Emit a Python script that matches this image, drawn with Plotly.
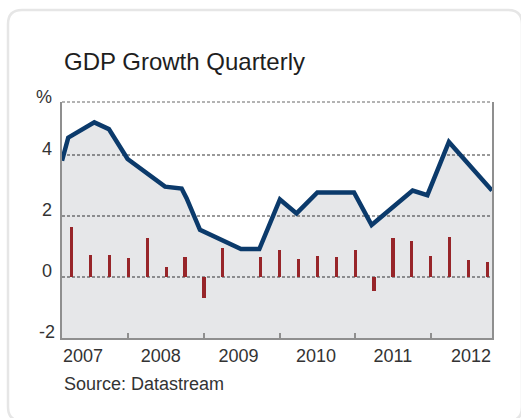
import plotly.graph_objects as go

# ---- data ----
quarter_idx = list(range(23))  # 2007Q1 .. 2012Q3
qoq_growth = [1.65, 0.74, 0.74, 0.63, 1.29, 0.34, 0.67, -0.70, 0.96, 0.0, 0.67, 0.89,
              0.60, 0.70, 0.67, 0.90, -0.44, 1.29, 1.19, 0.70, 1.32, 0.57, 0.48]
line_pos = [-0.51, -0.18, 1.2, 1.97, 2.96, 4.94, 5.82, 6.08, 6.79, 8.96, 9.93, 11.02,
            11.9, 13.0, 14.94, 15.87, 18.04, 18.82, 19.96, 22.24]
yoy_growth = [3.82, 4.58, 5.08, 4.86, 3.88, 2.97, 2.91, 2.59, 1.55, 0.92, 0.92, 2.55,
              2.09, 2.78, 2.78, 1.71, 2.84, 2.69, 4.44, 2.84]
year_labels = ["2007", "2008", "2009", "2010", "2011", "2012"]
year_label_pos = [0.6, 4.72, 8.83, 12.93, 17.0, 21.13]
year_boundaries = [3, 7, 11, 15, 19]
y_ticks = [-2, 0, 2, 4]

FONT = "Liberation Sans, Arial, Helvetica, sans-serif"
W, H = 521, 418
ML, MR, MT, MB = 62, 29, 102, 80
PW, PH = W - ML - MR, H - MT - MB


def px_to_paper(x, y):
    return (x - ML) / PW, (H - MB - y) / PH


fig = go.Figure()

# fill base (below the axis range) and area under line
fig.add_trace(go.Scatter(x=line_pos, y=[-5] * len(line_pos), mode="lines",
                         line=dict(width=0), hoverinfo="skip", showlegend=False))
fig.add_trace(go.Scatter(x=line_pos, y=yoy_growth, mode="lines", fill="tonexty",
                         fillcolor="rgba(5,15,35,0.1)",
                         line=dict(color="#0b3a6b", width=4.5),
                         showlegend=False))
fig.add_trace(go.Bar(x=quarter_idx, y=qoq_growth, width=0.17,
                     marker=dict(color="#a8272a", line=dict(width=0)),
                     showlegend=False))

# year tick marks (inside)
fig.add_trace(go.Scatter(x=[year_boundaries[0]], y=[None], xaxis="x2", showlegend=False,
                         hoverinfo="skip"))

fig.update_layout(
    width=W, height=H,
    margin=dict(l=ML, r=MR, t=MT, b=MB, pad=0),
    paper_bgcolor="white", plot_bgcolor="white",
    font=dict(family=FONT, size=18, color="#333333"),
    bargap=0,
    xaxis=dict(range=[-0.51, 22.24], tickvals=year_label_pos, ticktext=year_labels,
               ticks="", showgrid=False, zeroline=False, showline=True,
               linecolor="#8f8f8f", linewidth=2, mirror=False,
               tickfont=dict(size=18, color="#333333"), ticklabelstandoff=0),
    xaxis2=dict(range=[-0.51, 22.24], overlaying="x", anchor="y", side="bottom",
                tickvals=year_boundaries, ticks="inside", ticklen=5, tickwidth=2,
                tickcolor="#8f8f8f", showticklabels=False, showgrid=False,
                zeroline=False, showline=False),
    yaxis=dict(range=[-2, 5.75], tickvals=y_ticks, showticklabels=False,
               showgrid=True, gridcolor="#9a9a9a", gridwidth=1.5, griddash="3px,2px",
               zeroline=False, showline=True, linecolor="#8f8f8f", linewidth=2,
               mirror=True, ticks=""),
)

annotations = []
for v in y_ticks:
    annotations.append(dict(x=(46.5 - ML) / PW, xref="paper", y=v, yref="y",
                            text=str(v), showarrow=False, xanchor="center",
                            yanchor="middle", yshift=6,
                            font=dict(size=18, color="#333333")))
px, py = px_to_paper(44, 97)
annotations.append(dict(x=px, y=py, xref="paper", yref="paper", text="%",
                        showarrow=False, xanchor="center", yanchor="middle",
                        font=dict(size=18, color="#333333")))
px, py = px_to_paper(62, 61)
annotations.append(dict(x=px, y=py, xref="paper", yref="paper", text="GDP Growth Quarterly",
                        showarrow=False, xanchor="left", yanchor="middle",
                        font=dict(size=24, color="#1e1e1e")))
px, py = px_to_paper(62, 384)
annotations.append(dict(x=px, y=py, xref="paper", yref="paper", text="Source: Datastream",
                        showarrow=False, xanchor="left", yanchor="middle",
                        font=dict(size=18, color="#333333")))
fig.update_layout(annotations=annotations)

# top dashed border of plot
fig.add_shape(type="line", xref="paper", yref="paper", x0=0, x1=1, y0=1, y1=1,
              line=dict(color="#9a9a9a", width=1.5, dash="3px,2px"))

# rounded card border
x0, y0 = px_to_paper(8, 10)
x1, y1 = px_to_paper(522, 421)
rx, ry = 14 / PW, 14 / PH
path = (f"M {x0 + rx},{y0} L {x1 - rx},{y0} Q {x1},{y0} {x1},{y0 - ry} "
        f"L {x1},{y1 + ry} Q {x1},{y1} {x1 - rx},{y1} L {x0 + rx},{y1} "
        f"Q {x0},{y1} {x0},{y1 + ry} L {x0},{y0 - ry} Q {x0},{y0} {x0 + rx},{y0} Z")
fig.add_shape(type="path", xref="paper", yref="paper", path=path, layer="below",
              line=dict(color="#e6e6e6", width=2.5))

fig.write_html("out.html")
